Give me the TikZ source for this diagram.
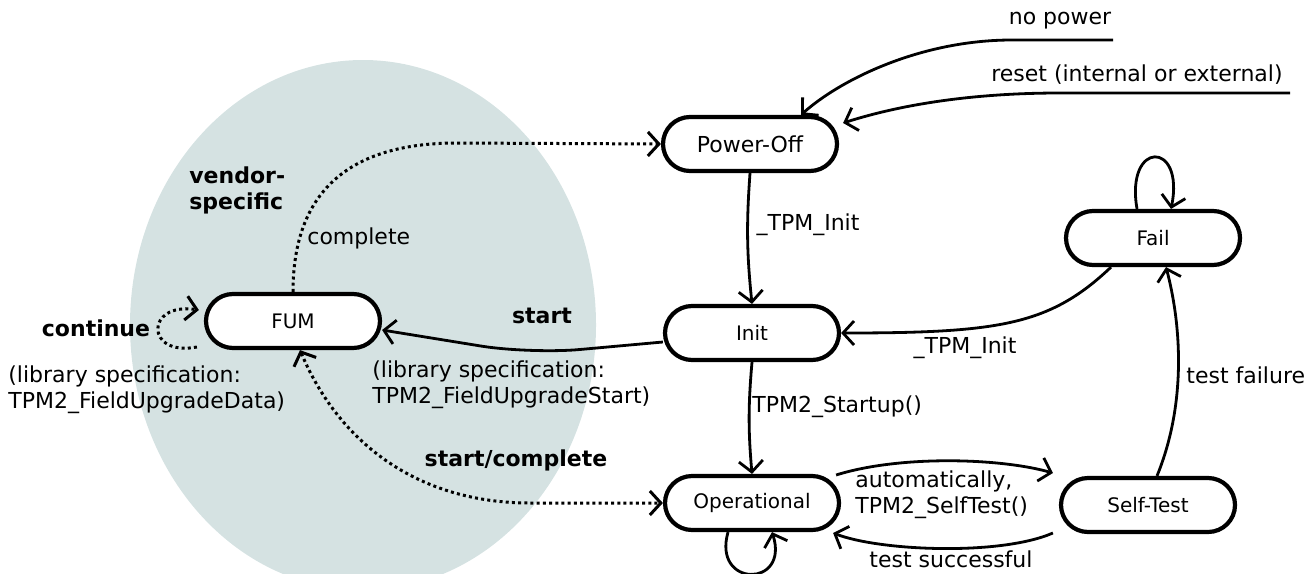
\documentclass[tikz,border=0pt]{standalone}
\usepackage{fontspec}
\setmainfont{DejaVu Sans}
\usetikzlibrary{arrows.meta,calc}
\definecolor{fumgrey}{RGB}{213,226,226}
\begin{document}
\begin{tikzpicture}[x=0.5pt,y=-0.5pt,
  >={Straight Barb[length=5.5pt,width=12pt]},
  state/.style={draw,line width=2.1pt,rounded corners=13.5pt,minimum width=87pt,minimum height=27pt,fill=white,font=\fontsize{10}{12}\selectfont,inner sep=0pt},
  arr/.style={line width=1.4pt,->},
  dotarr/.style={line width=1.5pt,->,dash pattern=on 1.5pt off 1.6pt},
  lbl/.style={font=\fontsize{11}{13}\selectfont,inner sep=0pt,align=left},
  blbl/.style={font=\fontsize{11}{13}\selectfont\bfseries,inner sep=0pt,align=left}]
\useasboundingbox (0,0) rectangle (1309,573);
\begin{scope}
  \clip (0,0) rectangle (1309,573);
  \fill[fumgrey] (363,325) ellipse [x radius=233, y radius=265];
\end{scope}

% states
\node[state] (PO) at (750,144) {\fontsize{11}{13}\selectfont Power-Off};
\node[state] (Fail) at (1153,238) {Fail};
\node[state] (Init) at (752,333) {Init};
\node[state] (FUM) at (293,321) {FUM};
\node[state] (Op) at (752,503) {Operational};
\node[state] (ST) at (1148,505) {Self-Test};

% incoming free arrows
\node[lbl] (lnp) at (1060,21) {no power};
\coordinate (np) at (1113,40);
\draw[arr] (np) -- (1012,40) .. controls (920,40) and (840,80) .. ($(PO.north)+(51,0)$);
\node[lbl] (lrs) at (1137,75) {reset (internal or external)};
\coordinate (rs) at (1290,93);
\draw[arr] (rs) -- (1060,93) .. controls (960,93) and (890,108) .. ($(PO.east)+(4,-21)$);

% main transitions
\draw[arr] (PO.south) to[bend right=5] (Init.north);
\node[lbl] (l1) at (808,225) {\_TPM\_Init};

\draw[arr] ($(Fail.south)+(-42,0)$) .. controls (1050,325) and (1000,333) .. (Init.east);
\node[lbl] (l2) at (965,348) {\_TPM\_Init};

\draw[arr] ($(Fail.north)+(-16,0)$) .. controls (1125,140) and (1185,140) .. ($(Fail.north)+(18,0)$);

\draw[arr] ($(ST.north)+(9,0)$) .. controls (1188,400) and (1180,320) .. ($(Fail.south)+(13,0)$);
\node[lbl,anchor=west] (l3) at (1186,375) {test failure};

\draw[arr] (Init.south) to[bend right=5] (Op.north);
\node[lbl,anchor=west] (l4) at (752,407) {TPM2\_Startup()};

\draw[arr] ($(Op.east)+(-5,-28)$) .. controls (900,455) and (1000,458) .. ($(ST.west)+(-6,-32)$);
\node[lbl,anchor=west] (l5) at (855,495) {automatically,\\TPM2\_SelfTest()};

\draw[arr] ($(ST.west)+(-6,28)$) .. controls (1000,556) and (880,551) .. ($(Op.east)+(-8,30)$);
\node[lbl] (l6) at (951,559) {test successful};

\draw[arr] ($(Op.south)+(-24,0)$) .. controls (712,588) and (790,588) .. ($(Op.south)+(20,0)$);

% FUM transitions
\draw[arr,rounded corners=25pt] ($(Init.west)+(0,9)$) -- (530,354) -- ($(FUM.east)+(0,9)$);
\node[blbl] (l7) at (542,316) {start};
\node[lbl,anchor=west] (l8) at (372,385) {(library specification:\\TPM2\_FieldUpgradeStart)};

\draw[dotarr] (FUM.north) .. controls (293,200) and (340,143) .. (457,143) -- (PO.west);
\node[lbl,anchor=west] (l9) at (307,238) {complete};
\node[blbl,anchor=west] (l10) at (189,190) {vendor-\\specific};

\draw[dotarr,<->] ($(FUM.south)+(7,0)$) .. controls (340,445) and (420,503) .. (530,503) -- (Op.west);
\node[blbl] (l11) at (516,460) {start/complete};

\draw[dotarr] ($(FUM.west)+(-7,26)$) .. controls (145,357) and (145,302) .. ($(FUM.west)+(-5,-11)$);
\node[blbl] (l12) at (96,328) {continue};
\node[lbl,anchor=west] (l13) at (8,390) {(library specification:\\TPM2\_FieldUpgradeData)};
\end{tikzpicture}
\end{document}
